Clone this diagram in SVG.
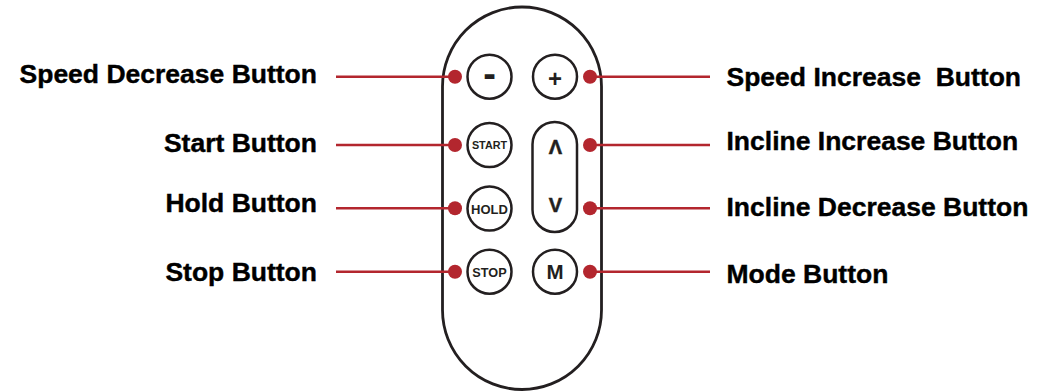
<svg xmlns="http://www.w3.org/2000/svg" width="1050" height="391" viewBox="0 0 1050 391">
<style>
.body{fill:#fff;stroke:#231f20;stroke-width:2.8}
.btn{fill:#fff;stroke:#231f20;stroke-width:2.5}
.bt{font-family:"Liberation Sans",Arial,sans-serif;font-weight:bold;fill:#231f20;text-anchor:middle}
.lbl{font-family:"Liberation Sans",Arial,sans-serif;font-weight:bold;font-size:26.5px;fill:#000;stroke:#000;stroke-width:0.4;white-space:pre}
.l{text-anchor:end}
.ln{stroke:#b3262e;stroke-width:2.5;fill:none}
.dot{fill:#b3262e}
</style>
<rect fill="#fff" x="0" y="0" width="1050" height="391"/>
<g id="remote">
<rect class="body" x="442.5" y="7" width="159" height="382.5" rx="79.5" ry="79.5"/>
</g>
<g id="btn-minus"><circle class="btn" cx="489.5" cy="76.7" r="22"/><text class="bt" x="489.5" y="86.6" font-size="38">-</text></g>
<g id="btn-plus"><circle class="btn" cx="555" cy="76.7" r="22"/><text class="bt" x="555" y="86.8" font-size="24">+</text></g>
<g id="btn-start"><circle class="btn" cx="489.5" cy="145" r="22"/><text class="bt" x="489.5" y="149.3" font-size="10.8">START</text></g>
<g id="btn-hold"><circle class="btn" cx="489.5" cy="208.5" r="22"/><text class="bt" x="489.5" y="214.2" font-size="13">HOLD</text></g>
<g id="btn-stop"><circle class="btn" cx="489.5" cy="271.7" r="22"/><text class="bt" x="489.5" y="277.3" font-size="12.7">STOP</text></g>
<g id="btn-incline"><rect class="btn" x="532.5" y="122" width="44.5" height="110" rx="22.2" ry="22.2"/><text class="bt" x="555.3" y="153.5" font-size="20" stroke="#231f20" stroke-width="0.5">Λ</text><text class="bt" x="555.3" y="211.7" font-size="20" stroke="#231f20" stroke-width="0.5">V</text></g>
<g id="btn-mode"><circle class="btn" cx="555" cy="271.7" r="22"/><text class="bt" x="555" y="279.3" font-size="20.5">M</text></g>
<g id="connectors">
<line class="ln" x1="336" y1="76.7" x2="455" y2="76.7"/>
<line class="ln" x1="336" y1="145" x2="455" y2="145"/>
<line class="ln" x1="336" y1="208.3" x2="455" y2="208.3"/>
<line class="ln" x1="336" y1="271.7" x2="455" y2="271.7"/>
<line class="ln" x1="590" y1="76.7" x2="710" y2="76.7"/>
<line class="ln" x1="590" y1="145" x2="710" y2="145"/>
<line class="ln" x1="590" y1="208.3" x2="710" y2="208.3"/>
<line class="ln" x1="590" y1="271.7" x2="710" y2="271.7"/>
<circle class="dot" cx="455" cy="76.7" r="7"/>
<circle class="dot" cx="455" cy="145" r="7"/>
<circle class="dot" cx="455" cy="208.3" r="7"/>
<circle class="dot" cx="455" cy="271.7" r="7"/>
<circle class="dot" cx="590" cy="76.7" r="7"/>
<circle class="dot" cx="590" cy="145" r="7"/>
<circle class="dot" cx="590" cy="208.3" r="7"/>
<circle class="dot" cx="590" cy="271.7" r="7"/>
</g>
<g id="label-speed-dec"><text class="lbl l" x="317" y="83.3">Speed Decrease Button</text></g>
<g id="label-start"><text class="lbl l" x="317" y="151.7">Start Button</text></g>
<g id="label-hold"><text class="lbl l" x="317" y="212">Hold Button</text></g>
<g id="label-stop"><text class="lbl l" x="317" y="280.5">Stop Button</text></g>
<g id="label-speed-inc"><text class="lbl" x="726.5" y="86" xml:space="preserve">Speed Increase  Button</text></g>
<g id="label-incline-inc"><text class="lbl" x="726.5" y="150">Incline Increase Button</text></g>
<g id="label-incline-dec"><text class="lbl" x="726.5" y="216">Incline Decrease Button</text></g>
<g id="label-mode"><text class="lbl" x="726.5" y="283.3">Mode Button</text></g>
</svg>
